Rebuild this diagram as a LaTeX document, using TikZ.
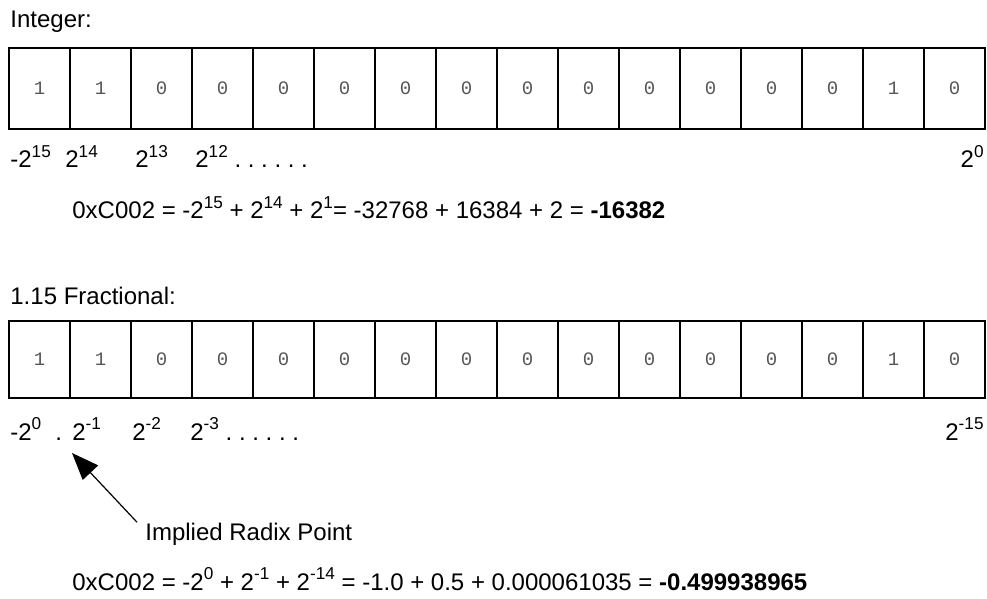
\documentclass[tikz,border=0pt]{standalone}
\usepackage{fontspec}
\setmainfont{Liberation Sans}
\newfontfamily\bitfont{Liberation Mono}
\usetikzlibrary{arrows.meta}
\definecolor{bitgray}{RGB}{85,85,85}
\newcommand\pw[1]{\raisebox{0.42em}{\fontsize{8.6}{10}\selectfont #1}}

\begin{document}
\begin{tikzpicture}[x=0.5pt,y=-0.5pt,
        lbl/.style={anchor=base west,inner sep=0pt,font=\fontsize{12}{14}\selectfont},
        rlbl/.style={lbl,anchor=base east},
        bitcell/.style={draw,line width=1pt,minimum width=30.5pt,inner sep=0pt,outer sep=0pt,
                font=\bitfont\fontsize{9.5}{11}\selectfont,text=bitgray}]
        \useasboundingbox (0,0) rectangle (987,599);
        % integer
        \node[lbl] (inttitle) at (10,28) {Integer:};
        \foreach \b [count=\i from 0] in {1,1,0,0,0,0,0,0,0,0,0,0,0,0,1,0}
                \node[bitcell,minimum height=40.5pt] (int\i) at ({39.5+61*\i},88.5) {\b};
        \node[lbl] (intw15) at (10,168) {-2\pw{15}};
        \node[lbl] (intw14) at (65,168) {2\pw{14}};
        \node[lbl] (intw13) at (135,168) {2\pw{13}};
        \node[lbl] (intw12) at (195,168) {2\pw{12}\ .\ .\ .\ .\ .\ .};
        \node[rlbl] (intw0) at (984,168) {2\pw{0}};
        \node[lbl] (inteq) at (72,219) {0xC002 = -2\pw{15} + 2\pw{14} + 2\pw{1}= -32768 + 16384 + 2 = \textbf{-16382}};
        % fractional
        \node[lbl] (fractitle) at (10,305) {1.15 Fractional:};
        \foreach \b [count=\i from 0] in {1,1,0,0,0,0,0,0,0,0,0,0,0,0,1,0}
                \node[bitcell,minimum height=38.5pt] (frac\i) at ({39.5+61*\i},359.5) {\b};
        \node[lbl] (fracw0) at (10,440) {-2\pw{0}};
        \node[lbl] (radixdot) at (55,440) {.};
        \node[lbl] (fracw1) at (72,440) {2\pw{-1}};
        \node[lbl] (fracw2) at (132,440) {2\pw{-2}};
        \node[lbl] (fracw3) at (190,440) {2\pw{-3}\ .\ .\ .\ .\ .\ .};
        \node[rlbl] (fracw15) at (984,440) {2\pw{-15}};
        \coordinate (radixtip) at (72,453);
        \node[lbl] (radixlbl) at (145,540) {Implied Radix Point};
        \draw[line width=0.6pt,-{Triangle[length=13.5pt,width=10.5pt]}] ([xshift=-4pt]radixlbl.north west) -- (radixtip);
        \node[lbl] (fraceq) at (72,590) {0xC002 = -2\pw{0} + 2\pw{-1} + 2\pw{-14} = -1.0 + 0.5 + 0.000061035 = \textbf{-0.499938965}};
\end{tikzpicture}
\end{document}
